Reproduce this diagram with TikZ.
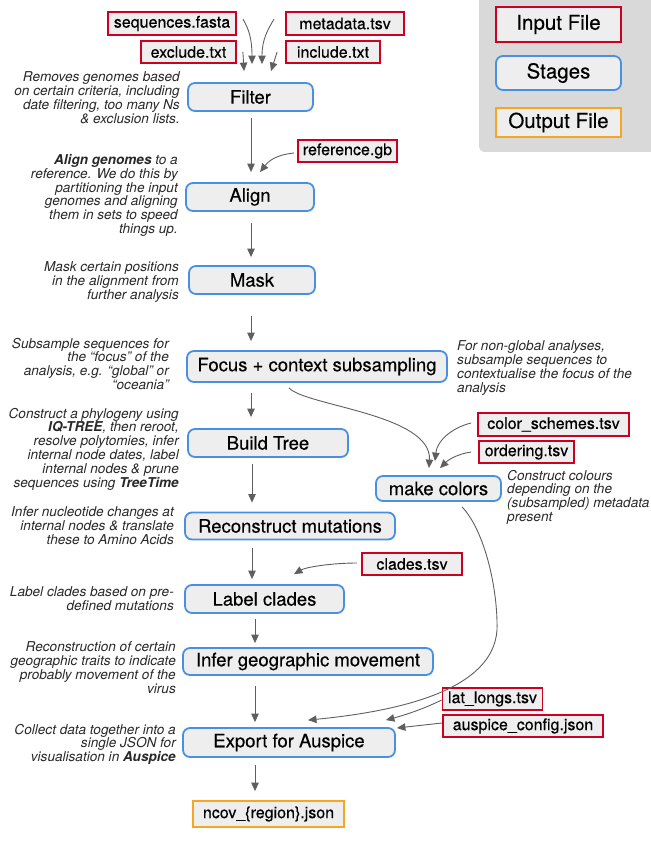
\documentclass[tikz,border=0pt]{standalone}
\usepackage{fontspec}
\setmainfont{TeX Gyre Heros}
\newfontfamily\boxfont[FakeBold=0.35]{TeX Gyre Heros}
\usetikzlibrary{arrows.meta,calc}
\definecolor{inred}{RGB}{204,0,34}
\definecolor{stblue}{RGB}{74,144,226}
\definecolor{outorange}{RGB}{245,166,35}
\definecolor{boxfill}{RGB}{238,238,238}
\definecolor{legbg}{RGB}{217,217,217}
\definecolor{arrgrey}{RGB}{95,95,95}
\definecolor{desctext}{RGB}{40,40,40}
\begin{document}
\begin{tikzpicture}[x=1pt,y=-1pt,
  infile/.style={draw=inred, line width=1.8pt, fill=boxfill, inner sep=0pt, font=\boxfont\fontsize{16}{18}\selectfont},
  outfile/.style={draw=outorange, line width=1.8pt, fill=boxfill, inner sep=0pt, font=\boxfont\fontsize{16}{18}\selectfont},
  stage/.style={draw=stblue, line width=1.8pt, fill=boxfill, rounded corners=7pt, inner sep=0pt, font=\boxfont\fontsize{18.5}{20}\selectfont},
  legfont/.style={font=\boxfont\fontsize{20.5}{22}\selectfont},
  desc/.style={inner sep=0pt, text=desctext, font=\fontsize{13.6}{13.8}\selectfont\itshape},
  arr/.style={draw=arrgrey, line width=0.9pt, -{Triangle[length=8.5pt,width=7.5pt]}},
]
\path[use as bounding box] (0,0) rectangle (650,845);
% legend background
\fill[legbg, rounded corners=6pt] (479,-10) rectangle (670,152);

% spine coordinates
\coordinate (spA) at (251,0);
\coordinate (spB) at (252,0);
\coordinate (spC) at (255,0);

% input files
\node[infile, minimum width=128pt, minimum height=23pt] (seqs) at (172,23.5) {sequences.fasta};
\node[infile, minimum width=118pt, minimum height=23pt] (meta) at (345,23.5) {metadata.tsv};
\node[infile, minimum width=95pt, minimum height=22pt] (excl) at (188.5,52) {exclude.txt};
\node[infile, minimum width=94pt, minimum height=22pt] (incl) at (333,52) {include.txt};
\node[infile, minimum width=99pt, minimum height=22pt] (ref) at (347.5,151) {reference.gb};
\node[infile, minimum width=151pt, minimum height=23pt] (cs) at (553.5,424.5) {color\_schemes.tsv};
\node[infile, minimum width=95pt, minimum height=22pt] (ord) at (526.5,452) {ordering.tsv};
\node[infile, minimum width=100pt, minimum height=22pt] (clades) at (412,564) {clades.tsv};
\node[infile, minimum width=100pt, minimum height=22pt] (ll) at (492.5,699) {lat\_longs.tsv};
\node[infile, minimum width=160.5pt, minimum height=22pt] (au) at (523,726) {auspice\_config.json};

% stages
\node[stage, minimum width=125pt, minimum height=28pt] (filter) at (250.5,97) {Filter};
\node[stage, minimum width=128pt, minimum height=28pt] (align) at (250,197) {Align};
\node[stage, minimum width=126pt, minimum height=28pt] (mask) at (252,280) {Mask};
\node[stage, minimum width=260pt, minimum height=31pt] (focus) at (317,366.5) {Focus + context subsampling};
\node[stage, minimum width=160pt, minimum height=28pt] (bt) at (268,443) {Build Tree};
\node[stage, minimum width=210pt, minimum height=27pt] (rec) at (290,526) {Reconstruct mutations};
\node[stage, minimum width=159pt, minimum height=28pt] (label) at (264.5,599) {Label clades};
\node[stage, minimum width=250pt, minimum height=27pt] (infer) at (308,661.5) {Infer geographic movement};
\node[stage, minimum width=212pt, minimum height=29pt] (export) at (289,742.5) {Export for Auspice};
\node[stage, minimum width=125pt, minimum height=25pt] (mc) at (438.5,488.5) {make colors};

% output
\node[outfile, minimum width=151pt, minimum height=26pt] (ncov) at (268.5,814) {ncov\_\{region\}.json};

% legend
\node[infile, legfont, minimum width=125pt, minimum height=35pt] (lgin) at (558.5,24.5) {Input File};
\node[stage, legfont, minimum width=125pt, minimum height=34pt] (lgst) at (558.5,73) {Stages};
\node[outfile, legfont, minimum width=125pt, minimum height=29pt] (lgout) at (558.5,122.5) {Output File};

% descriptions
\node[desc, anchor=north east, align=right] (dfilter) at (180,71.8) {Removes genomes based\\on certain criteria, including\\date filtering, too many Ns\\\& exclusion lists.};
\node[desc, anchor=north east, align=right] (dalign) at (178,154.3) {\textbf{Align genomes} to a\\reference. We do this by\\partitioning the input\\genomes and aligning\\them in sets to speed\\things up.};
\node[desc, anchor=north east, align=right] (dmask) at (179,261.8) {Mask certain positions\\in the alignment from\\further analysis};
\node[desc, anchor=north east, align=right] (dfocusl) at (169,337.8) {Subsample sequences for\\the “focus” of the\\analysis, e.g. “global” or\\“oceania”};
\node[desc, anchor=north west, align=left] (dfocusr) at (457,340.8) {For non-global analyses,\\subsample sequences to\\contextualise the focus of the\\analysis};
\node[desc, anchor=north east, align=right] (dbt) at (179,407.8) {Construct a phylogeny using\\\textbf{IQ-TREE}, then reroot,\\resolve polytomies, infer\\internal node dates, label\\internal nodes \& prune\\sequences using \textbf{TreeTime}};
\node[desc, anchor=north east, align=right] (drec) at (174,506.8) {Infer nucleotide changes at\\internal nodes \& translate\\these to Amino Acids};
\node[desc, anchor=north west, align=left] (dmc) at (507,469.8) {Construct colours\\depending on the\\(subsampled) metadata\\present};
\node[desc, anchor=north east, align=right] (dlabel) at (174,586.8) {Label clades based on pre-\\defined mutations};
\node[desc, anchor=north east, align=right] (dinfer) at (176,641.8) {Reconstruction of certain\\geographic traits to indicate\\probably movement of the\\virus};
\node[desc, anchor=north east, align=right] (dexport) at (176,723.8) {Collect data together into a\\single JSON for\\visualisation in \textbf{Auspice}};

% input arrows to filter
\draw[arr] ([xshift=6pt]excl.east) -- ([xshift=-6.5pt,yshift=11pt]filter.north);
\draw[arr] ([xshift=6pt,yshift=4.5pt]seqs.east) .. controls +(6,10) and +(0,-25) .. ([xshift=1.5pt,yshift=18pt]filter.north);
\draw[arr] ([xshift=-11pt,yshift=4.5pt]meta.west) .. controls +(-6,10) and +(0,-25) .. ([xshift=11.5pt,yshift=18pt]filter.north);
\draw[arr] ([xshift=-8pt]incl.west) -- ([xshift=20.5pt,yshift=11pt]filter.north);

% spine arrows
\draw[arr, shorten <=6pt, shorten >=10pt] (spA |- filter.south) -- (spA |- align.north);
\draw[arr, shorten <=11pt, shorten >=8pt] (spA |- align.south) -- (spA |- mask.north);
\draw[arr, shorten <=21pt, shorten >=9pt] (spA |- mask.south) -- (spA |- focus.north);
\draw[arr, shorten <=10pt, shorten >=11pt] (spA |- focus.south) -- (spA |- bt.north);
\draw[arr, shorten <=6pt, shorten >=9pt] (spB |- bt.south) -- (spB |- rec.north);
\draw[arr, shorten <=8pt, shorten >=5pt] (spB |- rec.south) -- (spB |- label.north);
\draw[arr, shorten <=5pt, shorten >=4pt] (spC |- label.south) -- (spC |- infer.north);
\draw[arr, shorten <=10pt, shorten >=5pt] (spC |- infer.south) -- (spC |- export.north);
\draw[arr, shorten <=7pt, shorten >=9pt] (spC |- export.south) -- (spC |- ncov.north);

% side inputs
\draw[arr] ([xshift=-3pt,yshift=-2pt]ref.west) .. controls +(-20,2) and +(8,-10) .. ([xshift=10pt,yshift=10pt]align.north);
\draw[arr] ([xshift=-4pt,yshift=1pt]clades.west) .. controls +(-25,0) and +(12,-7) .. ([xshift=29.5pt,yshift=10pt]label.north);
\draw[arr] ([xshift=-28pt,yshift=-5pt]focus.south) .. controls +(16,18) and +(3,-54) .. ([xshift=-9.5pt,yshift=7pt]mc.north);
\draw[arr] ([xshift=-6pt,yshift=1.5pt]cs.west) .. controls +(-20,5) and +(2,-20) .. ([xshift=-3.5pt,yshift=14pt]mc.north);
\draw[arr] ([xshift=-7pt]ord.west) .. controls +(-14,2) and +(8,-8) .. ([xshift=1.5pt,yshift=7pt]mc.north);
\coordinate (bend) at (497,630);
\draw[arr] ([xshift=23.5pt,yshift=-5pt]mc.south) .. controls +(23,24) and +(1,-40) .. (bend) .. controls +(-4,60) and +(92,-9) .. ([xshift=19pt,yshift=7pt]export.north);
\draw[arr] ([yshift=-1pt]ll.west) .. controls +(-20,10) and +(15,-4) .. ([xshift=-10pt,yshift=7pt]export.north east);
\draw[arr] ([yshift=3pt]au.west) -- ([xshift=1pt,yshift=14.5pt]export.east);
\end{tikzpicture}
\end{document}
